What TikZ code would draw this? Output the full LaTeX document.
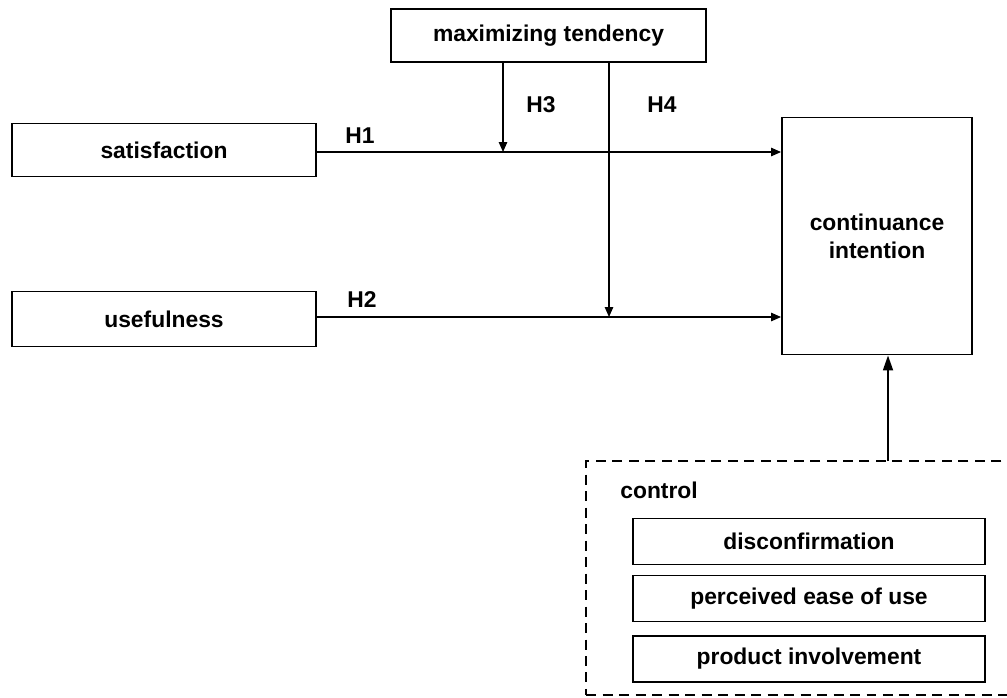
\documentclass[tikz,border=0pt]{standalone}
\usepackage{fontspec}
\setmainfont{Liberation Sans}
\usetikzlibrary{arrows.meta}

\tikzset{
  varbox/.style={draw, line width=1.1pt, inner sep=0pt, font=\fontsize{13}{16}\selectfont\bfseries},
  hlabel/.style={inner sep=0pt, font=\fontsize{13}{16}\selectfont\bfseries},
  path/.style={line width=0.7pt, -{Triangle[length=0.2cm,width=0.17cm]}}
}

\begin{document}
\begin{tikzpicture}[x=0.02cm, y=-0.02cm]

  \useasboundingbox (0,0) rectangle (1007,697);
  \clip (0,0) rectangle (1007,697);

  \node[varbox, minimum width=6.3cm, minimum height=1.06cm] (maxtend) at (548.5,35.5) {maximizing tendency};
  \node[varbox, minimum width=6.08cm, minimum height=1.06cm] (sat) at (164,150) {satisfaction};
  \node[varbox, minimum width=6.08cm, minimum height=1.1cm] (use) at (164,319) {usefulness};
  \node[varbox, minimum width=3.8cm, minimum height=4.74cm, align=center] (cont) at (877,236) {continuance\\intention};

  % control variables
  \node[draw, dashed, dash pattern=on 0.2cm off 0.13cm, line width=0.9pt, minimum width=8.58cm, minimum height=4.68cm] (ctrl) at (800.5,578) {};
  \node[hlabel, anchor=west] (ctrllbl) at (620,490) {control};
  \node[varbox, minimum width=7.04cm, minimum height=0.92cm] (disc) at (809,541.5) {disconfirmation};
  \node[varbox, minimum width=7.04cm, minimum height=0.92cm] (peou) at (809,598.5) {perceived ease of use};
  \node[varbox, minimum width=7.04cm, minimum height=0.92cm] (inv) at (809,659) {product involvement};

  \node[hlabel] (lblH1) at (360,136) {H1};
  \node[hlabel] (lblH2) at (362,300) {H2};
  \node[hlabel] (lblH3) at (541,105) {H3};
  \node[hlabel] (lblH4) at (662,105) {H4};

  \coordinate (h3end) at (503,152);
  \coordinate (h4end) at (609,317);
  \coordinate (ctrltop) at (888,461);

  \draw[path] (sat.east |- h3end) -- (cont.west |- h3end);
  \draw[path] (use.east |- h4end) -- (cont.west |- h4end);
  \draw[path] (maxtend.south -| h3end) -- (h3end);
  \draw[path] (maxtend.south -| h4end) -- (h4end);
  \draw[line width=1pt, -{Triangle[length=0.3cm,width=0.2cm]}] (ctrltop) -- (ctrltop |- cont.south);

\end{tikzpicture}
\end{document}
